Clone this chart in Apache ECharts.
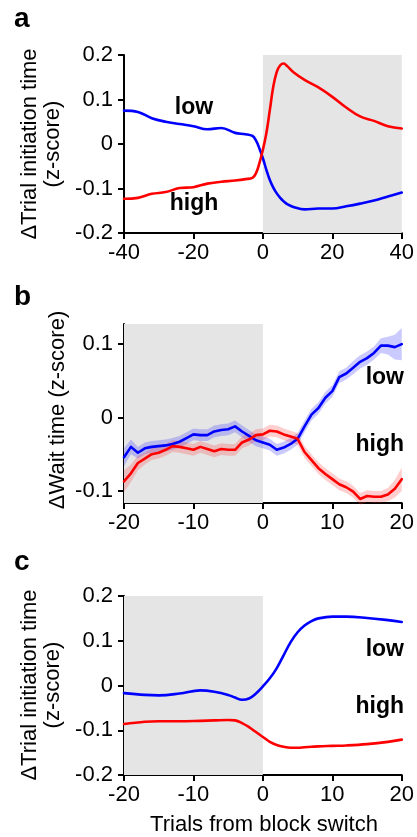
<!DOCTYPE html>
<html>
<head>
<meta charset="utf-8">
<script src="https://cdn.jsdelivr.net/npm/echarts@6/dist/echarts.min.js"></script>
<style>
  html, body { margin: 0; padding: 0; background: #fff; }
  #chart { width: 417px; height: 837px; }
</style>
</head>
<body>
<div id="chart"></div>
<script>
// ---- Panel a: trial initiation time around block switch (±40 trials) ----
const trialsA = [-40, -36, -32, -28, -24, -20, -16, -12, -8, -5, -3, -2, -1, 0, 1, 2, 3, 4, 5, 6, 7, 9, 12, 16, 20, 24, 28, 32, 36, 40];
const lowA  = [0.075, 0.072, 0.058, 0.050, 0.045, 0.040, 0.033, 0.036, 0.025, 0.022, 0.018, 0.008, -0.010, -0.032, -0.058, -0.081, -0.098, -0.111, -0.121, -0.129, -0.135, -0.142, -0.147, -0.145, -0.145, -0.140, -0.134, -0.127, -0.118, -0.109];
const highA = [-0.123, -0.121, -0.112, -0.108, -0.099, -0.097, -0.089, -0.085, -0.082, -0.079, -0.076, -0.066, -0.043, -0.013, 0.024, 0.076, 0.129, 0.162, 0.177, 0.181, 0.175, 0.160, 0.144, 0.127, 0.106, 0.082, 0.062, 0.052, 0.040, 0.035];

// ---- Panel b: wait time, mean ± sem per trial ----
const trialsB = [-20, -19, -18, -17, -16, -15, -14, -13, -12, -11, -10, -9, -8, -7, -6, -5, -4, -3, -2, -1, 0, 1, 2, 3, 4, 5, 6, 7, 8, 9, 10, 11, 12, 13, 14, 15, 16, 17, 18, 19, 20];
const lowB  = [-0.054, -0.040, -0.048, -0.042, -0.040, -0.039, -0.038, -0.036, -0.033, -0.028, -0.023, -0.024, -0.024, -0.019, -0.017, -0.016, -0.012, -0.019, -0.025, -0.031, -0.034, -0.037, -0.044, -0.041, -0.036, -0.029, -0.012, 0.004, 0.013, 0.027, 0.036, 0.055, 0.060, 0.068, 0.076, 0.081, 0.088, 0.098, 0.098, 0.096, 0.100];
const lowSemB = [0.012, 0.010, 0.008, 0.008, 0.008, 0.008, 0.008, 0.008, 0.008, 0.008, 0.008, 0.008, 0.008, 0.008, 0.008, 0.008, 0.008, 0.008, 0.008, 0.008, 0.008, 0.008, 0.008, 0.008, 0.008, 0.008, 0.008, 0.008, 0.008, 0.008, 0.008, 0.008, 0.008, 0.009, 0.009, 0.009, 0.009, 0.010, 0.012, 0.017, 0.022];
const highB = [-0.087, -0.076, -0.062, -0.056, -0.050, -0.048, -0.044, -0.039, -0.040, -0.042, -0.044, -0.040, -0.043, -0.046, -0.043, -0.044, -0.044, -0.034, -0.030, -0.024, -0.023, -0.018, -0.019, -0.023, -0.026, -0.029, -0.047, -0.058, -0.069, -0.077, -0.084, -0.091, -0.095, -0.101, -0.111, -0.107, -0.108, -0.108, -0.105, -0.097, -0.084];
const highSemB = [0.015, 0.012, 0.010, 0.008, 0.008, 0.008, 0.008, 0.008, 0.008, 0.008, 0.008, 0.008, 0.008, 0.008, 0.008, 0.008, 0.008, 0.008, 0.008, 0.008, 0.008, 0.008, 0.008, 0.008, 0.008, 0.008, 0.008, 0.008, 0.008, 0.008, 0.008, 0.008, 0.008, 0.008, 0.008, 0.008, 0.008, 0.008, 0.009, 0.012, 0.016];

// ---- Panel c: trial initiation time, ±20 trials ----
const trialsC = [-20, -17, -15, -12, -9, -7, -5, -4, -3, -2, -1, 0, 1, 2, 3, 4, 5, 6, 7, 8, 10, 12, 15, 18, 20];
const lowC  = [-0.017, -0.021, -0.022, -0.018, -0.011, -0.014, -0.021, -0.027, -0.032, -0.029, -0.018, -0.002, 0.016, 0.039, 0.068, 0.097, 0.119, 0.134, 0.144, 0.150, 0.154, 0.154, 0.151, 0.146, 0.142];
const highC = [-0.086, -0.081, -0.080, -0.080, -0.079, -0.078, -0.077, -0.078, -0.084, -0.093, -0.104, -0.115, -0.126, -0.133, -0.137, -0.139, -0.139, -0.138, -0.137, -0.136, -0.135, -0.134, -0.131, -0.126, -0.121];

// ---- shaded "mixed" block spans and axis ranges ----
const mixedA = [0, 40];
const mixedBC = [-20, 0];
const ticksA = { x: [-40, 40, 20], y: [-0.2, 0.2, 0.1] };
const ticksB = { x: [-20, 20, 10], y: [-0.1165, 0.1275], yLabels: [-0.1, 0, 0.1] };
const ticksC = { x: [-20, 20, 10], y: [-0.2, 0.2, 0.1] };

const FONT = "'Liberation Sans', Arial, Helvetica, sans-serif";
const BLUE = '#0000ff';
const RED = '#ff0000';
const SHADE = '#e5e5e5';

const pairs = (xs, ys) => xs.map((x, i) => [x, ys[i]]);

const grids = [
  { left: 124, top: 55, width: 281, height: 178 },
  { left: 124, top: 324, width: 281, height: 179 },
  { left: 124, top: 596, width: 281, height: 179 }
];

const axisCommon = {
  axisLine: { show: true, onZero: false, lineStyle: { color: '#000', width: 2 } },
  axisTick: { show: true, inside: false, length: 6, lineStyle: { color: '#000', width: 2 } },
  splitLine: { show: false },
  axisLabel: { color: '#000', fontSize: 22, fontFamily: FONT }
};

function xAxis(gi, t) {
  return Object.assign({}, axisCommon, {
    type: 'value', gridIndex: gi, min: t[0], max: t[1], interval: t[2],
    axisLabel: Object.assign({}, axisCommon.axisLabel, { margin: 9 })
  });
}
function yAxis(gi, t) {
  const ax = Object.assign({}, axisCommon, {
    type: 'value', gridIndex: gi, min: t[0], max: t[1],
    axisLabel: Object.assign({}, axisCommon.axisLabel, { margin: 11 })
  });
  if (t.length === 3) ax.interval = t[2];
  return ax;
}

const yB = yAxis(1, ticksB.y);
yB.axisLabel.customValues = ticksB.yLabels;
yB.axisTick = Object.assign({}, yB.axisTick, { customValues: ticksB.yLabels });

function shadeSeries(gi, span) {
  return {
    type: 'line', xAxisIndex: gi, yAxisIndex: gi, data: [], silent: true, z: 0,
    markArea: {
      silent: true,
      itemStyle: { color: SHADE },
      data: [[{ xAxis: span[0], yAxis: 'min' }, { xAxis: span[1], yAxis: 'max' }]]
    }
  };
}

function meanLine(gi, xs, ys, color, smooth) {
  return {
    type: 'line', xAxisIndex: gi, yAxisIndex: gi, data: pairs(xs, ys),
    showSymbol: false, symbol: 'none', smooth: smooth,
    lineStyle: { color: color, width: 2.6, cap: 'round', join: 'round' }, z: 5, silent: true
  };
}

// mean ± sem ribbon drawn as one polygon through the axis scales
function band(gi, xs, ys, sem, color) {
  const rows = xs.map((x, i) => [x, ys[i] - sem[i], ys[i] + sem[i]]);
  return {
    type: 'custom', xAxisIndex: gi, yAxisIndex: gi, data: rows, silent: true, z: 3,
    encode: { x: 0, y: [1, 2] },
    renderItem: function (params, api) {
      if (params.dataIndex !== 0) return null;
      const upper = rows.map(r => api.coord([r[0], r[2]]));
      const lower = rows.map(r => api.coord([r[0], r[1]])).reverse();
      return {
        type: 'polygon',
        shape: { points: upper.concat(lower) },
        style: { fill: color }
      };
    }
  };
}

function txt(x, y, s, opts) {
  return {
    type: 'text', x: x, y: y, silent: true,
    style: Object.assign({ text: s, fill: '#000', font: '22px ' + FONT, textAlign: 'left', textVerticalAlign: 'middle' }, opts || {})
  };
}
function boldTxt(x, y, s, size, align) {
  return txt(x, y, s, { font: 'bold ' + (size || 22) + 'px ' + FONT, textAlign: align || 'left' });
}
function vTxt(x, y, s) {
  return {
    type: 'text', x: x, y: y, rotation: Math.PI / 2, silent: true,
    style: { text: s, fill: '#000', font: '22px ' + FONT, textAlign: 'center', textVerticalAlign: 'middle' }
  };
}

const option = {
  animation: false,
  backgroundColor: '#fff',
  grid: grids,
  xAxis: [xAxis(0, ticksA.x), xAxis(1, ticksB.x), xAxis(2, ticksC.x)],
  yAxis: [yAxis(0, ticksA.y), yB, yAxis(2, ticksC.y)],
  series: [
    shadeSeries(0, mixedA),
    shadeSeries(1, mixedBC),
    shadeSeries(2, mixedBC),
    meanLine(0, trialsA, lowA, BLUE, 0.4),
    meanLine(0, trialsA, highA, RED, 0.4),
    band(1, trialsB, lowB, lowSemB, 'rgba(60,60,255,0.27)'),
    band(1, trialsB, highB, highSemB, 'rgba(255,50,50,0.24)'),
    meanLine(1, trialsB, lowB, BLUE, false),
    meanLine(1, trialsB, highB, RED, false),
    meanLine(2, trialsC, lowC, BLUE, 0.4),
    meanLine(2, trialsC, highC, RED, 0.4)
  ],
  graphic: [
    // panel letters
    boldTxt(14, 19, 'a', 28),
    boldTxt(14, 297, 'b', 28),
    boldTxt(14, 562, 'c', 28),
    // y-axis titles
    vTxt(30, 144, '\u0394Trial initiation time'),
    vTxt(53, 144, '(z-score)'),
    vTxt(58, 410, '\u0394Wait time (z-score)'),
    vTxt(30, 685, '\u0394Trial initiation time'),
    vTxt(53, 685, '(z-score)'),
    // x-axis title
    txt(264, 825, 'Trials from block switch', { textAlign: 'center' }),
    // series / block labels
    boldTxt(398, 74, 'mixed', 23, 'right'),
    boldTxt(194, 108, 'low', 23, 'center'),
    boldTxt(194, 204, 'high', 23, 'center'),
    boldTxt(260, 342, 'mixed', 23, 'right'),
    boldTxt(404, 378, 'low', 23, 'right'),
    boldTxt(404, 445, 'high', 23, 'right'),
    boldTxt(260, 612, 'mixed', 23, 'right'),
    boldTxt(404, 650, 'low', 23, 'right'),
    boldTxt(404, 707, 'high', 23, 'right')
  ]
};

const chart = echarts.init(document.getElementById('chart'), null, { renderer: 'canvas' });
chart.setOption(option);
</script>
</body>
</html>
